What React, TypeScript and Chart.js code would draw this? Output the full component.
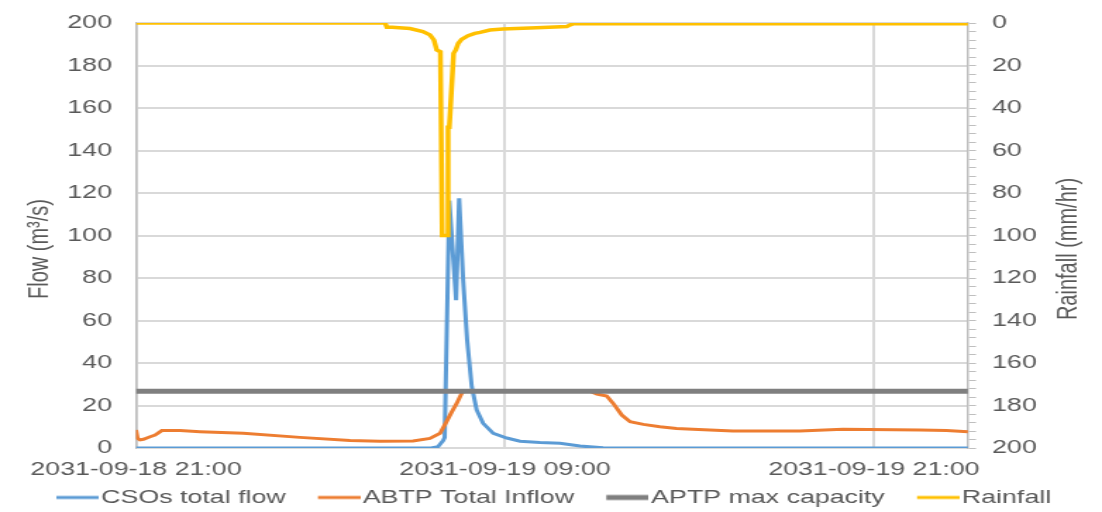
import React, { useEffect, useRef } from 'react';
import { Chart, registerables } from 'chart.js';

Chart.register(...registerables);

// ---------- data ----------
const xTickHours = [0, 12, 24];
const xTickLabels = ['2031-09-18 21:00', '2031-09-19 09:00', '2031-09-19 21:00'];
const X_MAX_HOURS = 27.06;

const csoHours = [0, 9.6, 9.82, 9.99, 10.04, 10.19, 10.41, 10.51, 10.64, 10.77, 10.92, 11.08, 11.29, 11.62, 12.06, 12.49, 13.14, 13.79, 14.44, 15.19, 15.42, 27.06];
const csoFlow = [0, 0, 0.6, 3.5, 5, 116.4, 69.6, 117.5, 79, 50.8, 28.9, 17.9, 11.6, 6.9, 4.7, 3.2, 2.6, 2.2, 0.9, 0.1, 0, 0];

const abtpHours = [0, 0.05, 0.13, 0.24, 0.46, 0.62, 0.84, 1.43, 2.08, 3.49, 5.33, 6.96, 7.93, 9.01, 9.56, 9.89, 10.1, 10.27, 10.43, 10.59, 10.67, 14.76, 14.99, 15.31, 15.52, 15.8, 16.07, 16.5, 17.04, 17.58, 18.11, 19.41, 21.59, 22.99, 25.5, 26.36, 27.06];
const abtpFlow = [8.5, 4.6, 3.8, 4.1, 5.3, 6.1, 8.2, 8.2, 7.7, 6.9, 5, 3.5, 3.2, 3.3, 4.5, 6.9, 12.4, 17, 21, 25.7, 26.7, 26.7, 25.4, 24.5, 21, 15.5, 12.4, 11.1, 10, 9.2, 8.8, 8, 8, 8.8, 8.5, 8.2, 7.7];

const capacityHours = [0, 27.06];
const capacityFlow = [26.7, 26.7];

const rainHours = [0, 8.1, 8.16, 8.33, 8.91, 9.33, 9.56, 9.69, 9.78, 9.9, 9.96, 10.12, 10.15, 10.19, 10.33, 10.4, 10.48, 10.59, 10.8, 11.02, 11.19, 11.51, 11.93, 13.03, 14.01, 14.1, 14.21, 27.06];
const rainMmHr = [0, 0, 2, 2, 2.6, 4, 5.6, 8, 12.7, 13.5, 100, 100, 49, 49, 14.3, 12.7, 9.6, 7.7, 6, 4.9, 4.4, 3.3, 2.8, 2.2, 1.7, 1, 0.4, 0.4];

const seriesNames = ['CSOs total flow', 'ABTP Total Inflow', 'APTP max capacity', 'Rainfall'];
const seriesColors = ['#5b9bd5', '#ed7d31', '#7f7f7f', '#ffc000'];

// ---------- layout ----------
const W = 782;
const H = 518;
const SX = 1102 / W;
const FONT = '"Liberation Sans", Arial, sans-serif';
const TEXT = '#595959';
const FS = 19;
const LEFT_AXIS_W = 96.5;
const PLOT_W = (968 - 136) / SX;
const PAD_RIGHT = 12.5;

// legend geometry (pre-stretch px)
const LEG_PAD = 6.5;
const LEG_BOX = 38.7;
const LEG_LINE = 30;
const LEG_GAP = 2;

const toPoints = (xs: number[], ys: number[]) => xs.map((x, i) => ({ x, y: ys[i] }));

function makeSwatch(color: string, lw: number) {
  const half = LEG_BOX + FS / 2 - LEG_GAP - LEG_BOX / 2;
  const c = document.createElement('canvas');
  c.width = Math.round(half * 2);
  c.height = 10;
  const g = c.getContext('2d')!;
  g.strokeStyle = color;
  g.lineWidth = lw;
  g.beginPath();
  g.moveTo(c.width - LEG_LINE, 5);
  g.lineTo(c.width, 5);
  g.stroke();
  return c;
}

const axisTitlePlugin = {
  id: 'axisTitles',
  afterDraw(chart: any) {
    const { ctx, chartArea, scales } = chart;
    const cy = (chartArea.top + chartArea.bottom) / 2 + 13.5;
    ctx.save();
    ctx.font = `20px ${FONT}`;
    ctx.fillStyle = TEXT;
    ctx.textAlign = 'center';
    ctx.textBaseline = 'middle';
    const draw = (text: string, x: number) => {
      ctx.save();
      ctx.translate(x, cy);
      ctx.rotate(-Math.PI / 2);
      ctx.fillText(text, 0, 0);
      ctx.restore();
    };
    draw('Flow (m³/s)', scales.y.left + 28);
    draw('Rainfall (mm/hr)', chart.width - 24);
    ctx.restore();
  },
};

export default function App() {
  const ref = useRef<HTMLCanvasElement | null>(null);

  useEffect(() => {
    if (!ref.current) return;
    const swatches = [
      makeSwatch(seriesColors[0], 3),
      makeSwatch(seriesColors[1], 3),
      makeSwatch(seriesColors[2], 5),
      makeSwatch(seriesColors[3], 3),
    ];
    const tickFont = { family: FONT, size: FS };
    const chart = new Chart(ref.current, {
      type: 'line',
      data: {
        datasets: [
          { label: seriesNames[0], data: toPoints(csoHours, csoFlow), borderColor: seriesColors[0], backgroundColor: seriesColors[0], borderWidth: 3, pointRadius: 0, tension: 0, yAxisID: 'y', order: 3 },
          { label: seriesNames[1], data: toPoints(abtpHours, abtpFlow), borderColor: seriesColors[1], backgroundColor: seriesColors[1], borderWidth: 3, pointRadius: 0, tension: 0, yAxisID: 'y', order: 2 },
          { label: seriesNames[2], data: toPoints(capacityHours, capacityFlow), borderColor: seriesColors[2], backgroundColor: seriesColors[2], borderWidth: 5, pointRadius: 0, tension: 0, yAxisID: 'y', order: 1 },
          { label: seriesNames[3], data: toPoints(rainHours, rainMmHr), borderColor: seriesColors[3], backgroundColor: seriesColors[3], borderWidth: 3.5, pointRadius: 0, tension: 0, yAxisID: 'y1', order: 0 },
        ],
      },
      options: {
        responsive: false,
        animation: false,
        events: [],
        devicePixelRatio: 1,
        layout: { padding: { left: 0, right: PAD_RIGHT, top: 23, bottom: 1 } },
        scales: {
          x: {
            type: 'linear',
            min: 0,
            max: X_MAX_HOURS,
            afterBuildTicks: (scale: any) => {
              scale.ticks = xTickHours.map((v) => ({ value: v }));
            },
            afterFit: (scale: any) => {
              scale.height = 33.5;
            },
            ticks: {
              autoSkip: false,
              maxRotation: 0,
              padding: 10,
              color: TEXT,
              font: tickFont,
              callback: (v: any) => {
                const i = xTickHours.indexOf(Number(v));
                return i >= 0 ? xTickLabels[i] : '';
              },
            },
            grid: { color: '#d9d9d9', lineWidth: 2, drawTicks: false },
            border: { display: false },
          },
          y: {
            position: 'left',
            min: 0,
            max: 200,
            afterFit: (scale: any) => {
              scale.width = LEFT_AXIS_W;
              scale.paddingTop = 0;
              scale.paddingBottom = 0;
            },
            ticks: { stepSize: 20, padding: 17, color: TEXT, font: tickFont },
            grid: { color: '#d9d9d9', lineWidth: 2, drawTicks: false },
            border: { display: true, color: '#bfbfbf', width: 1.5 },
          },
          y1: {
            position: 'right',
            min: 0,
            max: 200,
            reverse: true,
            afterFit: (scale: any) => {
              scale.width = W - LEFT_AXIS_W - PLOT_W - PAD_RIGHT;
              scale.paddingTop = 0;
              scale.paddingBottom = 0;
            },
            ticks: {
              stepSize: 4,
              autoSkip: false,
              padding: 11.4,
              color: TEXT,
              font: tickFont,
              callback: (v: any) => (Number(v) % 20 === 0 ? String(v) : ''),
            },
            grid: { drawOnChartArea: false, drawTicks: true, tickLength: 5.7, color: '#bfbfbf', lineWidth: 1 },
            border: { display: true, color: '#bfbfbf', width: 1.5 },
          },
        },
        plugins: {
          tooltip: { enabled: false },
          legend: {
            position: 'bottom',
            labels: {
              usePointStyle: true,
              pointStyleWidth: LEG_BOX,
              padding: LEG_PAD,
              color: TEXT,
              font: { family: FONT, size: FS },
              sort: (a: any, b: any) => a.datasetIndex - b.datasetIndex,
              generateLabels: (c: any) => {
                const items = (Chart.defaults.plugins.legend.labels as any).generateLabels(c);
                items.forEach((it: any) => {
                  it.pointStyle = swatches[it.datasetIndex];
                });
                return items;
              },
            },
          },
        },
      } as any,
      plugins: [axisTitlePlugin as any],
    });
    return () => chart.destroy();
  }, []);

  return (
    <div style={{ position: 'fixed', left: 0, top: 0, width: 1102, height: 512, overflow: 'hidden', background: '#ffffff' }}>
      <div style={{ width: W, height: H, transform: `scaleX(${SX})`, transformOrigin: '0 0' }}>
        <canvas ref={ref} width={W} height={H} style={{ display: 'block', width: W, height: H }} />
      </div>
    </div>
  );
}
